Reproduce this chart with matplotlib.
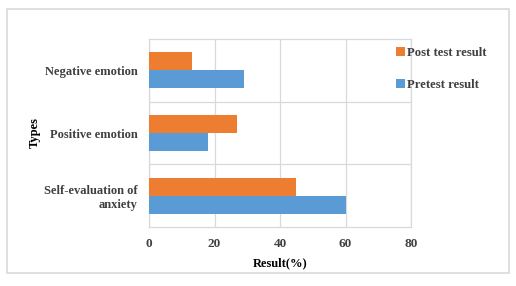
import numpy as np
import matplotlib.pyplot as plt
from matplotlib.patches import Rectangle

categories = ["Self-evaluation of\nanxiety", "Positive emotion", "Negative emotion"]
pretest = [60, 18, 29]
posttest = [45, 27, 13]
x_ticks = [0, 20, 40, 60, 80]

plt.rcParams['font.family'] = ['Liberation Serif', 'DejaVu Serif']
plt.rcParams['font.weight'] = 'bold'
txt = '#404040'

fig = plt.figure(figsize=(5.16, 2.86), dpi=100)
ax = fig.add_axes([0.2888, 0.2063, 0.5077, 0.6573])

y = np.arange(len(categories))
h = 0.286
ax.barh(y - h / 2, pretest, height=h, color='#5B9BD5', label='Pretest result', zorder=3)
ax.barh(y + h / 2, posttest, height=h, color='#ED7D31', label='Post test result', zorder=3)

ax.set_xlim(0, 80)
ax.set_ylim(-0.5, 2.5)
ax.set_xticks(x_ticks)
ax.set_yticks(y)
ax.set_yticklabels(categories, fontsize=9, color=txt, fontweight='bold', linespacing=1.2)
ax.set_yticks([0.5, 1.5], minor=True)
ax.tick_params(axis='both', which='both', length=0, labelcolor=txt)
ax.tick_params(axis='y', pad=8)
ax.tick_params(axis='x', pad=8, labelsize=9.5)
ax.grid(True, axis='x', color='#d9d9d9', linewidth=0.9, zorder=0)
ax.grid(True, axis='y', which='minor', color='#d9d9d9', linewidth=0.9, zorder=0)
for s in ax.spines.values():
    s.set_color('#d9d9d9')
    s.set_linewidth(0.9)

ax.set_xlabel('Result(%)', fontsize=9, color='black', fontweight='bold', labelpad=5)
ax.set_ylabel('Types', fontsize=9, color='black', fontweight='bold')
ax.yaxis.set_label_coords(-0.412, 0.5)

handles, labels = ax.get_legend_handles_labels()
fig.legend(handles[::-1], labels[::-1], loc='upper left', bbox_to_anchor=(0.745, 0.875),
           frameon=False, fontsize=9.2, handlelength=0.7, handleheight=0.7,
           handletextpad=0.15, labelspacing=1.55, labelcolor=txt)

fig.patches.append(Rectangle((0.014, 0.045), 0.972, 0.925, transform=fig.transFigure,
                             fill=False, edgecolor='#d9d9d9', linewidth=1.2))

fig.savefig('out.png', dpi=100)
